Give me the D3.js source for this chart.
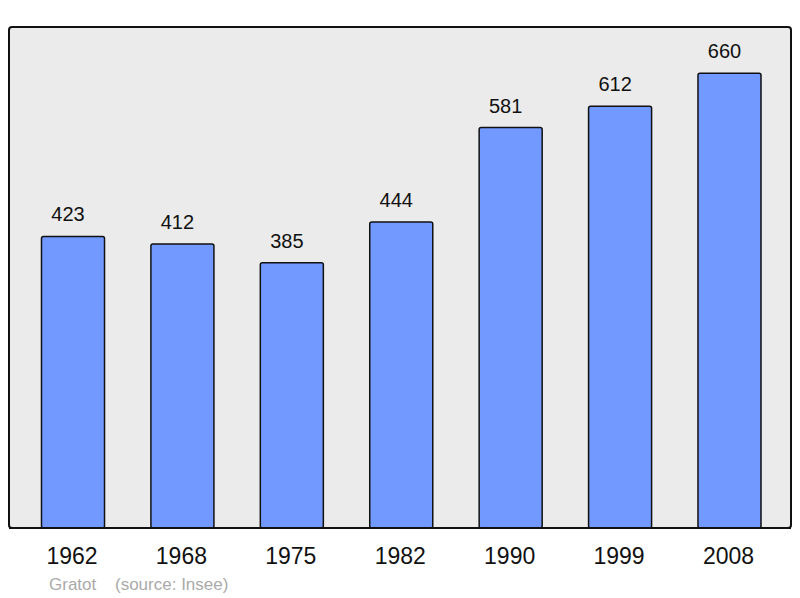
<!DOCTYPE html>
<html>
  <head>
    <title>Gratot population</title>
    <script src="https://d3js.org/d3.v7.min.js"></script>
    <style>
      body { margin: 0; background: white; }
      text { font-family: "Liberation Sans", Arial, sans-serif; }
    </style>
  </head>
  <body>
    <svg id="main" width="800" height="598"></svg>
    <script>
      var years = ['1962', '1968', '1975', '1982', '1990', '1999', '2008'];
      var population = [423, 412, 385, 444, 581, 612, 660];
      var footer = ['Gratot', '(source: Insee)'];

      var svg = d3.select('#main');

      // frame of the plot area
      var frameLeft = 9, frameRight = 791, frameTop = 27, frameBottom = 528;

      svg.append('rect')
        .attr('x', frameLeft).attr('y', frameTop)
        .attr('width', frameRight - frameLeft).attr('height', frameBottom - frameTop)
        .attr('rx', 3)
        .style('fill', '#ebebeb')
        .style('stroke', '#111')
        .style('stroke-width', 2);

      var x = d3.scaleBand()
        .domain(years)
        .range([18.3, 784.2])
        .paddingInner(0.424)
        .paddingOuter(0.212);

      var y = d3.scaleLinear()
        .domain([0, 727])
        .range([frameBottom, frameTop]);

      var bars = svg.append('g').selectAll('g')
        .data(population)
        .enter().append('g');

      bars.append('rect')
        .attr('x', function(d, i) { return x(years[i]); })
        .attr('y', function(d) { return y(d); })
        .attr('width', x.bandwidth())
        .attr('height', function(d) { return frameBottom - y(d); })
        .attr('rx', 2)
        .style('fill', '#7199ff')
        .style('stroke', '#111')
        .style('stroke-width', 1.5);

      // value labels sit a little left of the bar centre in the original
      bars.append('text')
        .attr('x', function(d, i) { return x(years[i]) + x.bandwidth() / 2 - 5; })
        .attr('y', function(d) { return y(d) - 15; })
        .attr('text-anchor', 'middle')
        .style('font-size', '20px')
        .style('fill', '#111')
        .text(function(d) { return d; });

      // redraw bottom edge of the frame over the bars
      svg.append('line')
        .attr('x1', frameLeft).attr('x2', frameRight)
        .attr('y1', frameBottom).attr('y2', frameBottom)
        .style('stroke', '#111')
        .style('stroke-width', 2);

      svg.append('g').selectAll('text')
        .data(years)
        .enter().append('text')
        .attr('x', function(d) { return x(d) + x.bandwidth() / 2 - 1; })
        .attr('y', 564)
        .attr('text-anchor', 'middle')
        .style('font-size', '23px')
        .style('fill', '#111')
        .text(function(d) { return d; });

      svg.append('text')
        .attr('x', 49).attr('y', 590)
        .style('font-size', '17px')
        .style('fill', '#aaaaaa')
        .text(footer[0]);

      svg.append('text')
        .attr('x', 115).attr('y', 590)
        .style('font-size', '17px')
        .style('fill', '#aaaaaa')
        .text(footer[1]);
    </script>
  </body>
</html>
